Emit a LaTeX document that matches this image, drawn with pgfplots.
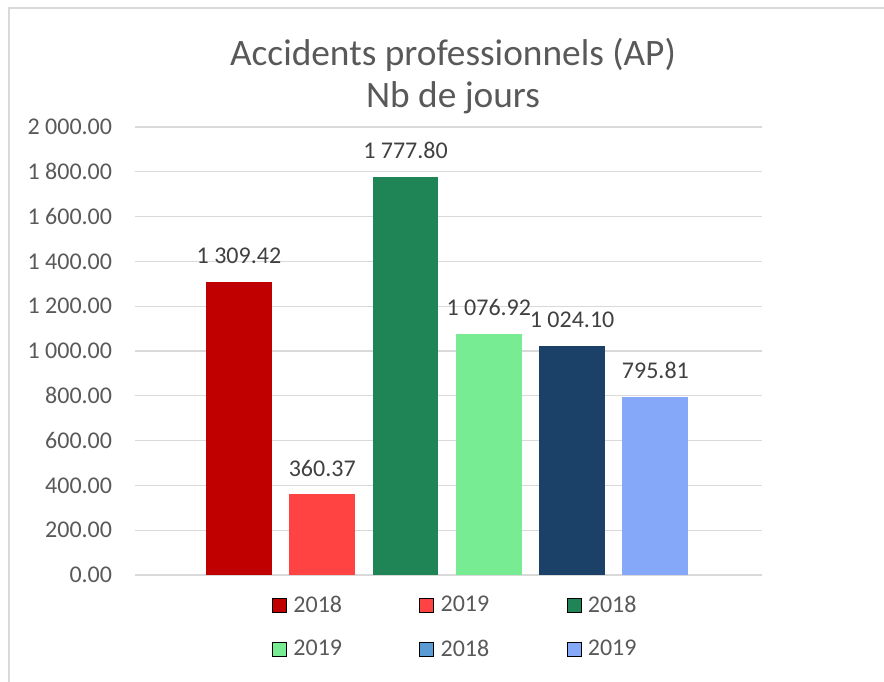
\documentclass[border=0pt]{standalone}
\usepackage{pgfplots}
\pgfplotsset{compat=1.18}
\usepackage{fontspec}
\setmainfont{Carlito}

\definecolor{txt}{HTML}{595959}
\definecolor{lab}{HTML}{404040}
\definecolor{gridc}{HTML}{D9D9D9}
\definecolor{c1}{HTML}{C00000}
\definecolor{c2}{HTML}{FF4343}
\definecolor{c3}{HTML}{1F8556}
\definecolor{c4}{HTML}{77EC92}
\definecolor{c5}{HTML}{1C4169}
\definecolor{c5leg}{HTML}{5B9BD5}
\definecolor{c6}{HTML}{86A8F8}

\begin{document}
\begin{tikzpicture}
\useasboundingbox (0,0) rectangle (663pt,510.75pt);
\draw[color=gridc, line width=1pt] (6.75pt,-10pt) rectangle (700pt,504.75pt);

\node[font=\fontsize{28}{32}\selectfont, color=txt] at (339.75pt,469.5pt) {Accidents professionnels (AP)};
\node[font=\fontsize{28}{32}\selectfont, color=txt] at (339.75pt,437.25pt) {Nb de jours};

\begin{axis}[
  at={(101.25pt,79.5pt)}, anchor=south west,
  scale only axis, width=470.25pt, height=336pt,
  xmin=-1.248, xmax=6.28, ymin=0, ymax=2000,
  axis line style={draw=none},
  ymajorgrids, grid style={color=gridc, line width=0.9pt},
  xtick=\empty,
  ytick={0,200,...,2000},
  yticklabels={0.00,200.00,400.00,600.00,800.00,1 000.00,1 200.00,1 400.00,1 600.00,1 800.00,2 000.00},
  major tick length=0pt,
  yticklabel style={font=\fontsize{18}{21}\selectfont, color=txt, inner sep=0pt, xshift=-17pt},
  every node near coord/.append style={font=\fontsize{18}{21}\selectfont, color=lab, anchor=south, inner sep=0pt, yshift=13pt},
  legend image code/.code={\fill[#1] (0pt,-5.25pt) rectangle (10.5pt,5.25pt); \path (13.5pt,0pt);},
  legend columns=3,
  legend style={draw=none, fill=none, at={(0.5115,-0.116)}, anchor=center,
    font=\fontsize{18}{21}\selectfont, text=txt, row sep=15pt,
    /tikz/every even column/.append style={column sep=56pt}},
]
\addplot[ybar, bar width=0.79, bar shift=0pt, fill=c1, draw=none, forget plot,
  nodes near coords, point meta=explicit symbolic] coordinates {(0,1309.42) [1 309.42]};
\addplot[ybar, bar width=0.79, bar shift=0pt, fill=c2, draw=none, forget plot,
  nodes near coords, point meta=explicit symbolic] coordinates {(1,360.37) [360.37]};
\addplot[ybar, bar width=0.79, bar shift=0pt, fill=c3, draw=none, forget plot,
  nodes near coords, point meta=explicit symbolic] coordinates {(2,1777.80) [1 777.80]};
\addplot[ybar, bar width=0.79, bar shift=0pt, fill=c4, draw=none, forget plot,
  nodes near coords, point meta=explicit symbolic] coordinates {(3,1076.92) [1 076.92]};
\addplot[ybar, bar width=0.79, bar shift=0pt, fill=c5, draw=none, forget plot,
  nodes near coords, point meta=explicit symbolic] coordinates {(4,1024.10) [1 024.10]};
\addplot[ybar, bar width=0.79, bar shift=0pt, fill=c6, draw=none, forget plot,
  nodes near coords, point meta=explicit symbolic] coordinates {(5,795.81) [795.81]};

\addlegendimage{fill=c1}
\addlegendimage{fill=c2}
\addlegendimage{fill=c3}
\addlegendimage{fill=c4}
\addlegendimage{fill=c5leg}
\addlegendimage{fill=c6}
\legend{2018,2019,2018,2019,2018,2019}
\end{axis}
\end{tikzpicture}
\end{document}
